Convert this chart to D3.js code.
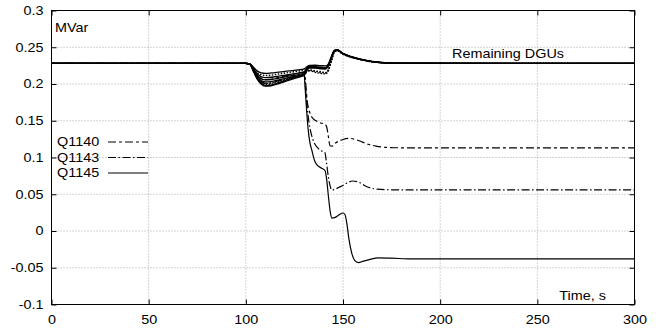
<!DOCTYPE html>
<html><head><meta charset="utf-8">
<script src="https://cdn.jsdelivr.net/npm/d3@7"></script>
<style>
html,body{margin:0;padding:0;background:#fff;}
svg{display:block;}
text{font-family:"Liberation Sans",Arial,Helvetica,sans-serif;font-size:12px;fill:#000;}
</style>
</head><body><svg id="chart" width="669" height="329"></svg>
<script>
// ---- tick values and labels ----
const xTicks = [0, 50, 100, 150, 200, 250, 300];
const xTickLabels = ["0", "50", "100", "150", "200", "250", "300"];
const yTicks = [-0.1, -0.05, 0, 0.05, 0.1, 0.15, 0.2, 0.25, 0.3];
const yTickLabels = ["-0.1", "-0.05", "0", "0.05", "0.1", "0.15", "0.2", "0.25", "0.3"];

// ---- Remaining DGUs (shared time base, s) ----
const dguTime = [0,100,102,104,106,108,110,113,117,122,127,130,131.5,133,136,139,141,142.5,144,145.5,147,150,154,159,165,172,180,300];
const dgu1 = [0.228,0.228,0.2275,0.2225,0.2175,0.2152,0.2145,0.215,0.2162,0.2178,0.2192,0.2205,0.2238,0.2252,0.2255,0.2248,0.2246,0.2275,0.2375,0.2458,0.2468,0.2418,0.2375,0.2338,0.2306,0.2289,0.2282,0.228];
const dgu2 = [0.228,0.228,0.2273,0.2205,0.2135,0.2098,0.2088,0.2092,0.2108,0.2128,0.2148,0.2162,0.2222,0.2240,0.2236,0.2226,0.2224,0.2262,0.2362,0.2452,0.2464,0.2414,0.2372,0.2336,0.2305,0.2288,0.2282,0.228];
const dgu3 = [0.228,0.228,0.2271,0.2185,0.2100,0.2045,0.2028,0.2033,0.2056,0.2086,0.2112,0.2132,0.2205,0.2226,0.2222,0.2212,0.2210,0.2252,0.2352,0.2446,0.2462,0.2412,0.2370,0.2335,0.2304,0.2288,0.2281,0.228];
const dgu4 = [0.228,0.228,0.2269,0.2165,0.2060,0.1998,0.1970,0.1976,0.2006,0.2050,0.2090,0.2115,0.2195,0.2216,0.2215,0.2205,0.2203,0.2245,0.2345,0.2442,0.2460,0.2410,0.2369,0.2334,0.2303,0.2287,0.2281,0.228];
const dgu5 = [0.228,0.228,0.2272,0.2195,0.2115,0.2068,0.2056,0.2061,0.2080,0.2106,0.2129,0.2146,0.2212,0.2233,0.2229,0.2219,0.2217,0.2257,0.2357,0.2449,0.2463,0.2413,0.2371,0.2335,0.2305,0.2288,0.2282,0.228];
const dgu6 = [0.228,0.228,0.2270,0.2175,0.2075,0.2018,0.1995,0.2000,0.2028,0.2070,0.2105,0.2122,0.2168,0.2186,0.2176,0.2165,0.2156,0.2198,0.2322,0.2436,0.2456,0.2408,0.2367,0.2333,0.2303,0.2287,0.2281,0.228];
const dgu7 = [0.228,0.228,0.2270,0.2180,0.2088,0.2030,0.2008,0.2013,0.2040,0.2078,0.2112,0.2130,0.2175,0.2180,0.2156,0.2142,0.2137,0.2180,0.2310,0.2430,0.2452,0.2406,0.2366,0.2332,0.2302,0.2287,0.2281,0.228];
const dgu8 = [0.228,0.228,0.2274,0.2215,0.2152,0.2126,0.2116,0.2121,0.2136,0.2156,0.2176,0.2190,0.2186,0.2190,0.2170,0.2155,0.2150,0.2190,0.2315,0.2432,0.2455,0.2407,0.2366,0.2332,0.2302,0.2287,0.2281,0.228];

// ---- Q1140 ----
const q1140Time = [0,100,102,104,106,108,110,113,117,122,127,130,131,131.5,132.5,133.5,134.6,136.5,138.5,140.5,141.5,142.5,143.3,144.5,146,148,150,153.5,157,160,163,167,172,180,300];
const q1140 = [0.228,0.228,0.2272,0.2195,0.212,0.2075,0.206,0.2065,0.209,0.212,0.215,0.2165,0.195,0.178,0.165,0.157,0.153,0.1495,0.147,0.1455,0.1425,0.128,0.116,0.1155,0.1195,0.1225,0.1245,0.126,0.124,0.121,0.118,0.1155,0.1138,0.1132,0.113];

// ---- Q1143 ----
const q1143Time = [0,100,102,104,106,108,110,113,117,122,127,130,130.7,131.5,132.5,133.5,135,137,139,140.7,141.5,142.5,143.5,144.3,146,148,150,152.5,155,158,162,166,172,180,300];
const q1143 = [0.228,0.228,0.2271,0.2185,0.2095,0.2035,0.201,0.2015,0.2045,0.208,0.2115,0.2135,0.195,0.17,0.148,0.134,0.121,0.113,0.109,0.1065,0.093,0.073,0.06,0.0555,0.057,0.0595,0.062,0.066,0.068,0.0665,0.0605,0.0575,0.0562,0.056,0.056];

// ---- Q1145 ----
const q1145Time = [0,100,102,104,106,108,110,113,117,122,127,130,130.5,131,132,133,134,135.5,137,139,140.8,141.6,142.5,143.5,144.3,146,148,150,151,152,153,154.5,156,158,160.5,164,168,175,185,300];
const q1145 = [0.228,0.228,0.2269,0.217,0.207,0.201,0.198,0.1985,0.2015,0.206,0.21,0.2125,0.195,0.175,0.14,0.12,0.1095,0.095,0.089,0.0855,0.082,0.07,0.047,0.025,0.0175,0.0185,0.022,0.0245,0.0225,0.01,-0.01,-0.03,-0.04,-0.043,-0.041,-0.0385,-0.0365,-0.037,-0.038,-0.038];

// ---- texts ----
const yUnit = "MVar";
const xTitle = "Time, s";
const dguLabel = "Remaining DGUs";
const legendNames = ["Q1140", "Q1143", "Q1145"];

// ================= drawing =================
const svg = d3.select("#chart");
const L = 51.5, R = 634.5, T = 10.5, B = 304.5;
const sx = 1.2; // horizontal stretch of the reference's lettering

const x = d3.scaleLinear().domain([0, 300]).range([L, R]);
const y = d3.scaleLinear().domain([-0.1, 0.3]).range([B, T]);

// grid
const grid = svg.append("g").attr("stroke", "#a8a8a8").attr("stroke-width", 1).attr("stroke-dasharray", "1,2");
xTicks.slice(1, -1).forEach(v => grid.append("line").attr("x1", x(v)).attr("x2", x(v)).attr("y1", T).attr("y2", B));
yTicks.slice(1, -1).forEach(v => grid.append("line").attr("y1", y(v)).attr("y2", y(v)).attr("x1", L).attr("x2", R));

function stretch(sel) {
  sel.selectAll("text").each(function () {
    const t = d3.select(this);
    const xx = +(t.attr("x") || 0);
    t.attr("x", xx / sx).attr("transform", `scale(${sx},1)`)
     .style("font-family", '"Liberation Sans",Arial,sans-serif').style("font-size", "12px");
  });
}

// axes (inward ticks, mirrored)
const yLabelMap = new Map(yTicks.map((v, i) => [v, yTickLabels[i]]));
const xLabelMap = new Map(xTicks.map((v, i) => [v, xTickLabels[i]]));
const gl = svg.append("g").attr("transform", `translate(${L},0)`)
  .call(d3.axisLeft(y).tickValues(yTicks).tickSize(-5).tickPadding(8).tickFormat(d => yLabelMap.get(d)));
const gb = svg.append("g").attr("transform", `translate(0,${B})`)
  .call(d3.axisBottom(x).tickValues(xTicks).tickSize(-5).tickPadding(11).tickFormat(d => xLabelMap.get(d)));
const gr = svg.append("g").attr("transform", `translate(${R},0)`)
  .call(d3.axisRight(y).tickValues(yTicks).tickSize(-5).tickFormat(""));
const gt = svg.append("g").attr("transform", `translate(0,${T})`)
  .call(d3.axisTop(x).tickValues(xTicks).tickSize(-5).tickFormat(""));
[gl, gb, gr, gt].forEach(g => { g.select(".domain").remove(); g.selectAll("line").attr("stroke", "#000"); });
stretch(gl); stretch(gb);

// frame
svg.append("rect").attr("x", L).attr("y", T).attr("width", R - L).attr("height", B - T)
  .attr("fill", "none").attr("stroke", "#000").attr("stroke-width", 1);

// lines
const plot = svg.append("g");
function drawSeries(times, vals, dash, width) {
  const pts = times.map((t, i) => [t, vals[i]]);
  const line = d3.line().x(d => x(d[0])).y(d => y(d[1])).curve(d3.curveMonotoneX);
  plot.append("path").attr("d", line(pts)).attr("fill", "none").attr("stroke", "#000")
    .attr("stroke-width", width).attr("stroke-dasharray", dash).attr("stroke-linejoin", "round");
}
[dgu6, dgu7, dgu8].forEach(v => drawSeries(dguTime, v, "1.5,1.5", 1.4));
[dgu1, dgu2, dgu3, dgu4, dgu5].forEach(v => drawSeries(dguTime, v, null, 1.3));
const qStyles = ["8,3,3,3", "8,2.5,1.5,2.5", null];
drawSeries(q1140Time, q1140, qStyles[0], 1.2);
drawSeries(q1143Time, q1143, qStyles[1], 1.2);
drawSeries(q1145Time, q1145, qStyles[2], 1.2);

// texts
function label(px, py, str, anchor) {
  svg.append("text").attr("transform", `translate(${px},${py}) scale(${sx},1)`)
    .attr("text-anchor", anchor || "start").text(str);
}
label(55, 32, yUnit);
label(452, 58, dguLabel);
label(606, 300, xTitle, "end");

// legend
const legY = [142, 157.5, 173];
legendNames.forEach((n, i) => {
  label(57, legY[i] + 4.3, n);
  svg.append("line").attr("x1", 108).attr("x2", 148).attr("y1", legY[i]).attr("y2", legY[i])
    .attr("stroke", "#000").attr("stroke-width", 1.2).attr("stroke-dasharray", qStyles[i]);
});
</script>
</body></html>
